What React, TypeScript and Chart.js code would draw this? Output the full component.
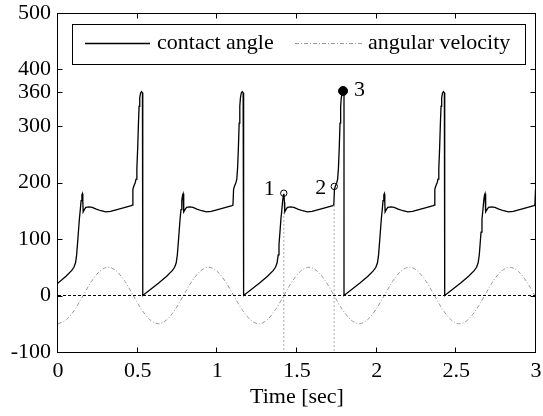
import { useEffect, useRef } from "react";
import { Chart, registerables } from "chart.js";

Chart.register(...registerables);

const FONT_FAMILY = "'Liberation Serif', 'Times New Roman', serif";

// Axis ticks
const xTickValues = [0, 0.5, 1, 1.5, 2, 2.5, 3];
const yTickValues = [-100, 0, 100, 200, 300, 360, 400, 500];

// Contact angle: one gait cycle (time after reset, value) and the reset times
const angleCycleStarts = [-0.1, 0.532, 1.165, 1.795, 2.427];
const angleCycleRelTime = [
  0.0, 0.05, 0.1, 0.15, 0.185, 0.2, 0.21, 0.217, 0.222, 0.228, 0.234, 0.24,
  0.245, 0.25, 0.253, 0.256, 0.258, 0.265, 0.275, 0.295, 0.315, 0.34, 0.37,
  0.4, 0.43, 0.47, 0.51, 0.56, 0.566, 0.57, 0.575, 0.585, 0.59, 0.595, 0.6,
  0.605, 0.609, 0.613, 0.618, 0.624, 0.63,
];
const angleCycleValue = [
  0, 11, 22, 34, 44, 50, 58, 72, 90, 112, 135, 152, 168, 178, 180, 165, 148,
  152, 156, 157, 156, 153, 150, 148, 149, 152, 155, 159, 160, 188, 193, 200,
  206, 225, 260, 305, 335, 350, 358, 361, 359,
];

// Angular velocity: one period (time in period, value) and period starts
const velCycleStarts = [0, 0.63, 1.26, 1.89, 2.52];
const velCycleRelTime = [
  0, 0.0525, 0.105, 0.1575, 0.21, 0.2625, 0.315, 0.3675, 0.42, 0.4725, 0.525,
  0.5775,
];
const velCycleValue = [-50, -43, -25, 0, 25, 43, 50, 43, 25, 0, -25, -43];

// Highlighted events
const markerTimes = [1.417, 1.734, 1.789];
const markerValues = [181, 193, 362];
const markerLabels = ["1", "2", "3"];
const guideTimes = [1.417, 1.733];
const guideTops = [148, 160];

const seriesLabels = ["contact angle", "angular velocity"];

function buildSeries(starts: number[], rel: number[], vals: number[]) {
  const pts: { x: number; y: number }[] = [];
  starts.forEach((s) => {
    rel.forEach((r, i) => pts.push({ x: s + r, y: vals[i] }));
  });
  return pts;
}

function zeroPad(s: any) {
  s.paddingTop = 0;
  s.paddingBottom = 0;
  s.paddingLeft = 0;
  s.paddingRight = 0;
}

export default function App() {
  const ref = useRef<HTMLCanvasElement | null>(null);

  useEffect(() => {
    if (!ref.current) return;
    const font = { family: FONT_FAMILY, size: 22 };

    const anglePts = buildSeries(angleCycleStarts, angleCycleRelTime, angleCycleValue);
    const velPts = buildSeries(velCycleStarts, velCycleRelTime, velCycleValue);

    const overlay = {
      id: "overlay",
      afterDatasetsDraw(chart: any) {
        const { ctx, chartArea: a, scales } = chart;
        const xs = scales.x;
        const ys = scales.y;
        ctx.save();
        // frame
        ctx.strokeStyle = "#000";
        ctx.lineWidth = 1;
        ctx.setLineDash([]);
        const L = Math.round(a.left) - 0.5;
        const R = Math.round(a.right) - 0.5;
        const T = Math.round(a.top) + 0.5;
        const B = Math.round(a.bottom) + 0.5;
        ctx.strokeRect(L, T, R - L, B - T);
        // inward ticks
        ctx.beginPath();
        xTickValues.forEach((v) => {
          const x = Math.round(xs.getPixelForValue(v)) - 0.5;
          ctx.moveTo(x, B);
          ctx.lineTo(x, B - 5);
          ctx.moveTo(x, T);
          ctx.lineTo(x, T + 5);
        });
        yTickValues.forEach((v) => {
          const y = Math.round(ys.getPixelForValue(v)) + 0.5;
          ctx.moveTo(L, y);
          ctx.lineTo(L + 5, y);
          ctx.moveTo(R, y);
          ctx.lineTo(R - 5, y);
        });
        ctx.stroke();

        // marker labels
        ctx.font = `22px ${FONT_FAMILY}`;
        ctx.fillStyle = "#000";
        ctx.textBaseline = "middle";
        markerTimes.forEach((t, i) => {
          const px = xs.getPixelForValue(t);
          const py = ys.getPixelForValue(markerValues[i]);
          if (i === 2) {
            ctx.textAlign = "left";
            ctx.fillText(markerLabels[i], px + 11, py - 1);
          } else if (i === 1) {
            ctx.textAlign = "right";
            ctx.fillText(markerLabels[i], px - 8, py + 2);
          } else {
            ctx.textAlign = "right";
            ctx.fillText(markerLabels[i], px - 9, py - 4);
          }
        });

        // legend box
        ctx.fillStyle = "#fff";
        ctx.fillRect(72.5, 24.5, 453, 40);
        ctx.strokeStyle = "#000";
        ctx.strokeRect(72.5, 24.5, 453, 40);
        const ly = 43.5;
        ctx.beginPath();
        ctx.lineWidth = 1.3;
        ctx.moveTo(85, ly);
        ctx.lineTo(150, ly);
        ctx.stroke();
        ctx.beginPath();
        ctx.lineWidth = 1;
        ctx.strokeStyle = "#999";
        ctx.setLineDash([4, 2, 1, 2]);
        ctx.moveTo(295, ly);
        ctx.lineTo(363, ly);
        ctx.stroke();
        ctx.setLineDash([]);
        ctx.fillStyle = "#000";
        ctx.textAlign = "left";
        ctx.textBaseline = "middle";
        ctx.fillText(seriesLabels[0], 157, 43);
        ctx.fillText(seriesLabels[1], 368, 43);
        ctx.restore();
      },
    };

    const chart = new Chart(ref.current, {
      type: "line",
      data: {
        datasets: [
          {
            label: "zero",
            data: [
              { x: 0, y: 0 },
              { x: 3, y: 0 },
            ],
            borderColor: "#000",
            borderWidth: 1,
            borderDash: [3, 2],
            pointRadius: 0,
          },
          {
            label: seriesLabels[1],
            data: velPts,
            borderColor: "#999",
            borderWidth: 1,
            borderDash: [4, 2, 1, 2],
            pointRadius: 0,
            cubicInterpolationMode: "monotone",
          },
          ...guideTimes.map((t, i) => ({
            label: "guide" + i,
            data: [
              { x: t, y: guideTops[i] },
              { x: t, y: -100 },
            ],
            borderColor: "#aaa",
            borderWidth: 1,
            borderDash: [2, 2],
            pointRadius: 0,
          })),
          {
            label: seriesLabels[0],
            data: anglePts,
            borderColor: "#000",
            borderWidth: 1.3,
            pointRadius: 0,
            tension: 0,
          },
          {
            label: "open markers",
            data: [0, 1].map((i) => ({ x: markerTimes[i], y: markerValues[i] })),
            showLine: false,
            pointRadius: 3.2,
            pointBackgroundColor: "#fff",
            pointBorderColor: "#000",
            pointBorderWidth: 1,
          },
          {
            label: "filled marker",
            data: [{ x: markerTimes[2], y: markerValues[2] }],
            showLine: false,
            pointRadius: 4.5,
            pointBackgroundColor: "#000",
            pointBorderColor: "#000",
            pointBorderWidth: 1,
          },
        ] as any,
      },
      options: {
        animation: false,
        responsive: false,
        devicePixelRatio: 1,
        layout: { padding: { left: 0, right: 7, top: 13, bottom: 0 } },
        plugins: { legend: { display: false }, tooltip: { enabled: false } },
        scales: {
          x: {
            type: "linear",
            min: 0,
            max: 3,
            grid: { display: false, drawTicks: false },
            border: { display: false },
            afterBuildTicks: (s: any) => {
              s.ticks = xTickValues.map((v) => ({ value: v }));
            },
            afterFit: (s: any) => {
              s.height = 64;
              zeroPad(s);
            },
            ticks: {
              font,
              color: "#000",
              padding: 6,
              maxRotation: 0,
              autoSkip: false,
              callback: (v: any) => String(v),
            },
            title: {
              display: true,
              text: "Time [sec]",
              font,
              color: "#000",
              padding: { top: 0, bottom: 6 },
            },
          },
          y: {
            type: "linear",
            min: -100,
            max: 500,
            grid: { display: false, drawTicks: false },
            border: { display: false },
            afterBuildTicks: (s: any) => {
              s.ticks = yTickValues.map((v) => ({ value: v }));
            },
            afterFit: (s: any) => {
              s.width = 58;
              zeroPad(s);
            },
            ticks: {
              font,
              color: "#000",
              padding: 7,
              autoSkip: false,
              callback: (v: any) => String(v),
            },
          },
        },
      } as any,
      plugins: [overlay],
    });
    return () => chart.destroy();
  }, []);

  return (
    <div style={{ position: "absolute", left: 0, top: 0, width: 543, height: 416, background: "#fff" }}>
      <canvas ref={ref} width={543} height={416} style={{ width: 543, height: 416, display: "block" }} />
    </div>
  );
}
